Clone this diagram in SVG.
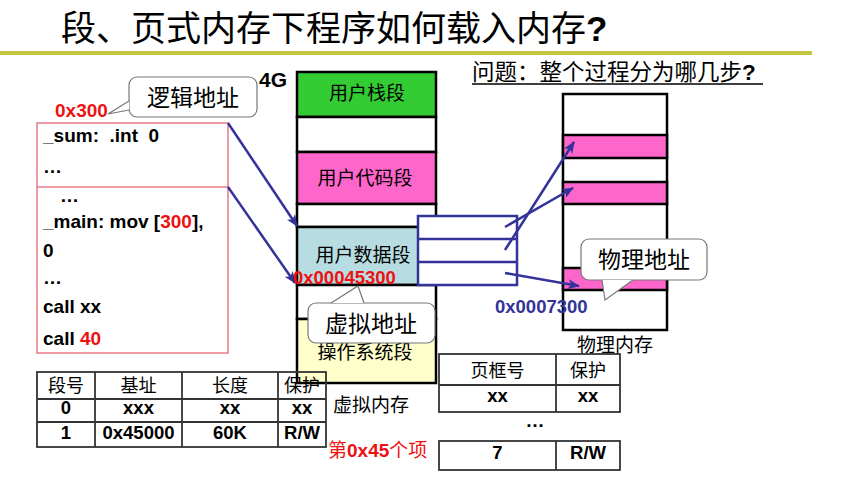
<svg xmlns="http://www.w3.org/2000/svg" width="848" height="500" viewBox="0 0 848 500">
<defs>
<marker id="ah" markerWidth="12" markerHeight="10" refX="11" refY="5" orient="auto" markerUnits="userSpaceOnUse"><path d="M0,0 L12,5 L0,10 L3,5 Z" fill="#333399"/></marker>
</defs>
<style>
.cjk{font-family:"Noto Sans CJK SC","Noto Sans",sans-serif;fill:#000}
.lat{font-family:"Liberation Sans",Arial,"Noto Sans CJK SC",sans-serif;font-weight:bold;fill:#000}
.red{fill:#EE1111}
.blue{fill:#333399}
.seg{stroke:#000;stroke-width:2.5}
.conn{stroke:#333399;stroke-width:2.5;fill:none}
.callout{fill:#fff;stroke:#777;stroke-width:1.2}
.tbl{fill:none;stroke:#333;stroke-width:1.8}
.mid{text-anchor:middle}
</style>
<rect width="848" height="500" fill="#fff"/>

<g id="title">
<text x="61" y="41" class="cjk" font-size="35">段、页式内存下程序如何载入内存<tspan class="lat">?</tspan></text>
<line x1="0" y1="53" x2="812" y2="53" stroke="#C4C440" stroke-width="4"/>
</g>

<g id="question">
<text x="472" y="80" class="cjk" font-size="22.5">问题：整个过程分为哪几步<tspan class="lat">?</tspan></text>
<line x1="472" y1="84" x2="763" y2="84" stroke="#000" stroke-width="1.5"/>
</g>

<g id="code">
<rect x="37" y="123" width="191" height="230" fill="#fff" stroke="#E87A86" stroke-width="1.5"/>
<line x1="37" y1="187" x2="228" y2="187" stroke="#E87A86" stroke-width="1.5"/>
<g class="lat" font-size="19">
<text x="43" y="142" xml:space="preserve">_sum:  .int  0</text>
<text x="43" y="173">…</text>
<text x="60" y="202">…</text>
<text x="43" y="228">_main: mov [<tspan class="red">300</tspan>],</text>
<text x="43" y="257">0</text>
<text x="43" y="284">…</text>
<text x="43" y="313">call xx</text>
<text x="43" y="345">call <tspan class="red">40</tspan></text>
</g>
<text x="55" y="117" class="lat red" font-size="19">0x300</text>
</g>

<g id="virtual-memory">
<rect x="297" y="72" width="139" height="45" fill="#33CC33" class="seg"/>
<rect x="297" y="117" width="139" height="35" fill="#fff" class="seg"/>
<rect x="297" y="152" width="139" height="52" fill="#FF66CC" class="seg"/>
<rect x="297" y="204" width="139" height="23" fill="#fff" class="seg"/>
<rect x="297" y="227" width="139" height="58" fill="#B7DDE3" class="seg"/>
<rect x="297" y="285" width="139" height="34" fill="#fff" class="seg"/>
<rect x="297" y="319" width="139" height="64" fill="#FFFFCC" class="seg"/>
<text x="259" y="87" class="lat" font-size="21">4G</text>
<text x="367" y="100" class="cjk mid" font-size="19">用户栈段</text>
<text x="365" y="185" class="cjk mid" font-size="19">用户代码段</text>
<text x="363" y="262" class="cjk mid" font-size="19">用户数据段</text>
<text x="365" y="359" class="cjk mid" font-size="19">操作系统段</text>
<text x="333" y="412" class="cjk" font-size="19">虚拟内存</text>
</g>

<g id="page-table-box">
<rect x="418" y="216" width="99" height="69" fill="#fff" stroke="#333399" stroke-width="2.5"/>
<line x1="418" y1="239" x2="517" y2="239" stroke="#333399" stroke-width="2.5"/>
<line x1="418" y1="262" x2="517" y2="262" stroke="#333399" stroke-width="2.5"/>
</g>

<g id="physical-memory">
<rect x="563" y="94" width="104" height="236" fill="#fff" class="seg"/>
<rect x="563" y="135" width="104" height="23" fill="#FF66CC" class="seg"/>
<rect x="563" y="182" width="104" height="22" fill="#FF66CC" class="seg"/>
<rect x="563" y="268" width="104" height="22" fill="#FF66CC" class="seg"/>
<text x="577" y="352" class="cjk" font-size="19">物理内存</text>
</g>

<g id="connectors">
<line x1="228" y1="123" x2="297" y2="226" class="conn" marker-end="url(#ah)"/>
<line x1="228" y1="187" x2="295" y2="283" class="conn" marker-end="url(#ah)"/>
<line x1="505" y1="227" x2="573" y2="188" class="conn" marker-end="url(#ah)"/>
<line x1="505" y1="250" x2="574" y2="142" class="conn" marker-end="url(#ah)"/>
<line x1="505" y1="273" x2="579" y2="286" class="conn" marker-end="url(#ah)"/>
</g>

<g id="callout-logical">
<rect x="129" y="77" width="128" height="40" rx="8" class="callout"/>
<path d="M129,101 L108,114 L129,110" class="callout"/>
<text x="193" y="106" class="cjk mid" font-size="23">逻辑地址</text>
</g>

<g id="callout-virtual">
<rect x="308" y="303" width="127" height="40" rx="8" class="callout"/>
<path d="M331,303 L358,286 L364,303" class="callout"/>
<text x="371" y="332" class="cjk mid" font-size="23">虚拟地址</text>
</g>

<g id="callout-physical">
<rect x="581" y="239" width="126" height="41" rx="8" class="callout"/>
<path d="M602,280 L605,300 L633,280" class="callout"/>
<text x="644" y="268" class="cjk mid" font-size="23">物理地址</text>
</g>

<text x="293" y="284" class="lat red" font-size="18.5">0x00045300</text>
<text x="495" y="313" class="lat blue" font-size="18.5">0x0007300</text>

<g id="segment-table">
<rect x="37" y="372" width="289" height="75" class="tbl"/>
<line x1="37" y1="399" x2="326" y2="399" class="tbl"/>
<line x1="37" y1="422" x2="326" y2="422" class="tbl"/>
<line x1="95" y1="372" x2="95" y2="447" class="tbl"/>
<line x1="182" y1="372" x2="182" y2="447" class="tbl"/>
<line x1="278" y1="372" x2="278" y2="447" class="tbl"/>
<g class="cjk mid" font-size="18">
<text x="66" y="392">段号</text>
<text x="138.5" y="392">基址</text>
<text x="230" y="392">长度</text>
<text x="302" y="392">保护</text>
</g>
<g class="lat mid" font-size="18.5">
<text x="66" y="414">0</text>
<text x="138.5" y="414">xxx</text>
<text x="230" y="414">xx</text>
<text x="302" y="414">xx</text>
<text x="66" y="439">1</text>
<text x="138.5" y="439">0x45000</text>
<text x="230" y="439">60K</text>
<text x="302" y="439">R/W</text>
</g>
<text x="328" y="457" class="cjk red" font-size="19">第<tspan class="lat red">0x45</tspan>个项</text>
</g>

<g id="page-table">
<rect x="439" y="354" width="181" height="58" class="tbl"/>
<line x1="439" y1="385" x2="620" y2="385" class="tbl"/>
<line x1="556" y1="354" x2="556" y2="412" class="tbl"/>
<text x="497.5" y="377" class="cjk mid" font-size="18">页框号</text>
<text x="588" y="377" class="cjk mid" font-size="18">保护</text>
<text x="497.5" y="402" class="lat mid" font-size="18.5">xx</text>
<text x="588" y="402" class="lat mid" font-size="18.5">xx</text>
<text x="535" y="427" class="lat mid" font-size="19">…</text>
<rect x="439" y="441" width="181" height="29" class="tbl"/>
<line x1="556" y1="441" x2="556" y2="470" class="tbl"/>
<text x="497.5" y="459" class="lat mid" font-size="18.5">7</text>
<text x="588" y="459" class="lat mid" font-size="18.5">R/W</text>
</g>
</svg>
